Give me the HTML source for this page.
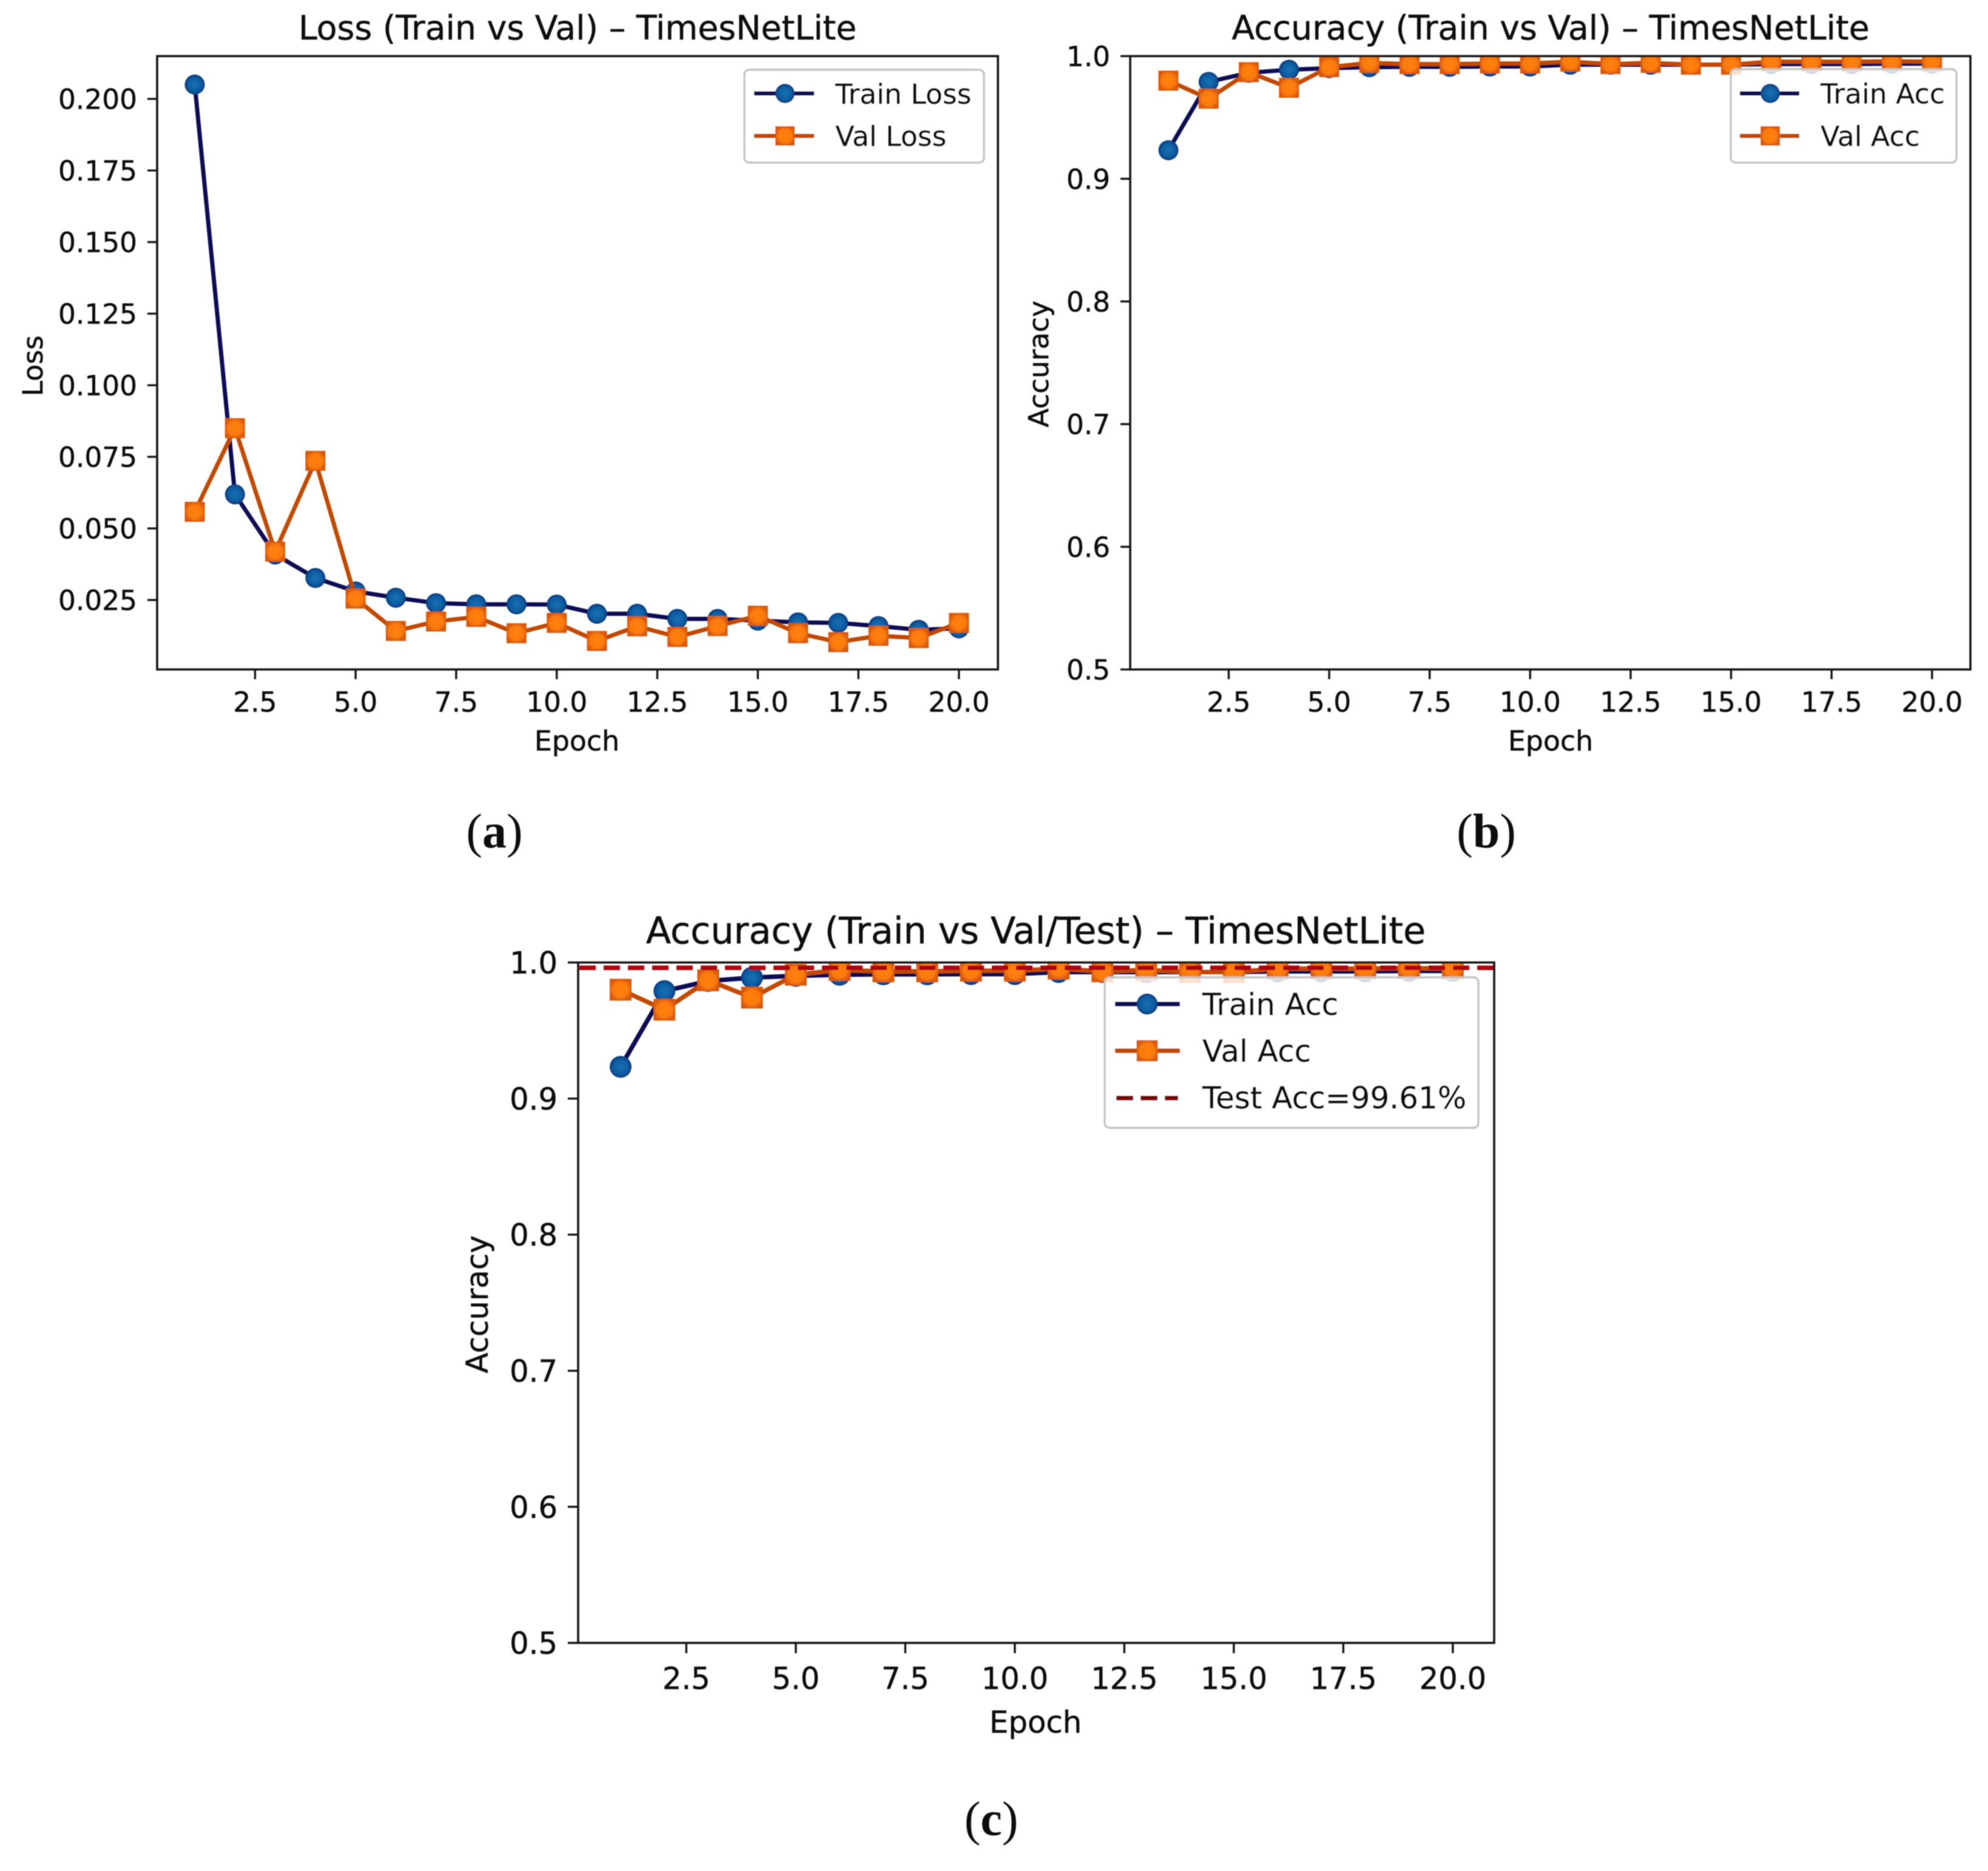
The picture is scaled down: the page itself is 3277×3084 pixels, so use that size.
<!DOCTYPE html>
<html lang="en">
<head>
<meta charset="utf-8">
<title>TimesNetLite training curves</title>
<style>
html,body{margin:0;padding:0;background:#fff;}
svg{display:block;}
text{font-family:"DejaVu Sans","Liberation Sans",sans-serif;fill:#0c0c0c;stroke:#0c0c0c;stroke-width:.5;}
.tick{font-size:45.4px;}
.label{font-size:45.8px;}
.title{font-size:55.3px;}
.legend-text{font-size:45.7px;}
.c .tick{font-size:49.6px;}
.c .label{font-size:49.8px;}
.c .legend-text{font-size:50px;}
.c .title{font-size:60.3px;}
.sub{font-family:"Liberation Serif","DejaVu Serif",serif;font-size:80px;stroke:none;}
.sub .b{font-weight:bold;}
.spine{fill:none;stroke:#151515;stroke-width:3.6;}
.tk{stroke:#151515;stroke-width:3.4;}
.frame{fill:#fff;fill-opacity:.8;stroke:#c4c4c4;stroke-width:3.4;}
</style>
</head>
<body>
<svg xmlns="http://www.w3.org/2000/svg" width="3277" height="3084" viewBox="0 0 3277 3084">
<defs>
  <radialGradient id="circleFill"><stop offset="0" stop-color="#1470b2"/><stop offset=".65" stop-color="#0f5fa2"/><stop offset="1" stop-color="#0a3a80"/></radialGradient>
  <radialGradient id="squareFill"><stop offset="0" stop-color="#ff8208"/><stop offset=".7" stop-color="#fb7a08"/><stop offset="1" stop-color="#d95a0a"/></radialGradient>
  <filter id="soft" filterUnits="userSpaceOnUse" x="0" y="0" width="3277" height="3084"><feGaussianBlur stdDeviation="0.9"/></filter>
  <clipPath id="clip-a"><rect x="259" y="92.5" width="1386" height="1011"/></clipPath>
  <clipPath id="clip-b"><rect x="1863" y="92.5" width="1385" height="1011"/></clipPath>
  <clipPath id="clip-c"><rect x="953" y="1586.5" width="1510" height="1121.5"/></clipPath>
</defs>
<rect width="3277" height="3084" fill="#fff"/>
<g filter="url(#soft)">

<!-- Panel (a) -->
<g class="a">
  <g id="ticks-a"></g>
  <g id="marks-a" clip-path="url(#clip-a)"></g>
  <rect class="spine" x="259" y="92.5" width="1386" height="1011"/>
  <text class="title" x="952" y="65" text-anchor="middle">Loss (Train vs Val) – TimesNetLite</text>
  <text class="label" x="951" y="1237" text-anchor="middle">Epoch</text>
  <text class="label" transform="translate(70 603) rotate(-90)" text-anchor="middle">Loss</text>
  <g>
    <rect class="frame" x="1227" y="115" width="395" height="153" rx="8"/>
    <g>
      <line x1="1243" y1="154" x2="1342" y2="154" stroke="#0a0f55" stroke-width="7"/>
      <circle cx="1294" cy="154" r="16" fill="url(#circleFill)"/>
      <text class="legend-text" x="1377" y="171">Train Loss</text>
    </g>
    <g>
      <line x1="1243" y1="224" x2="1342" y2="224" stroke="#c24a00" stroke-width="7"/>
      <rect x="1278" y="208" width="32" height="32" fill="url(#squareFill)"/>
      <text class="legend-text" x="1377" y="240.5">Val Loss</text>
    </g>
  </g>
  <text class="sub" x="815" y="1397" text-anchor="middle">(<tspan class="b">a</tspan>)</text>
</g>

<!-- Panel (b) -->
<g class="b">
  <g id="ticks-b"></g>
  <g id="marks-b" clip-path="url(#clip-b)"></g>
  <rect class="spine" x="1863" y="92.5" width="1385" height="1011"/>
  <text class="title" x="2556" y="65" text-anchor="middle">Accuracy (Train vs Val) – TimesNetLite</text>
  <text class="label" x="2556" y="1237" text-anchor="middle">Epoch</text>
  <text class="label" transform="translate(1728 600) rotate(-90)" text-anchor="middle">Accuracy</text>
  <g>
    <rect class="frame" x="2853" y="114" width="372" height="154" rx="8"/>
    <g>
      <line x1="2868" y1="154" x2="2966" y2="154" stroke="#0a0f55" stroke-width="7"/>
      <circle cx="2918" cy="154" r="16" fill="url(#circleFill)"/>
      <text class="legend-text" x="3001" y="170.5">Train Acc</text>
    </g>
    <g>
      <line x1="2868" y1="224" x2="2966" y2="224" stroke="#c24a00" stroke-width="7"/>
      <rect x="2902" y="208" width="32" height="32" fill="url(#squareFill)"/>
      <text class="legend-text" x="3001" y="240.5">Val Acc</text>
    </g>
  </g>
  <text class="sub" x="2450" y="1397" text-anchor="middle">(<tspan class="b">b</tspan>)</text>
</g>

<!-- Panel (c) -->
<g class="c">
  <g id="ticks-c"></g>
  <g id="marks-c" clip-path="url(#clip-c)"></g>
  <rect class="spine" x="953" y="1586.5" width="1510" height="1121.5"/>
  <text class="title" x="1707.5" y="1555" text-anchor="middle">Accuracy (Train vs Val/Test) – TimesNetLite</text>
  <text class="label" x="1707" y="2856" text-anchor="middle">Epoch</text>
  <text class="label" transform="translate(804 2150) rotate(-90)" text-anchor="middle">Accuracy</text>
  <g>
    <rect class="frame" x="1821" y="1611" width="616" height="248" rx="8"/>
    <g>
      <line x1="1838" y1="1655" x2="1945" y2="1655" stroke="#0a0f55" stroke-width="7.5"/>
      <circle cx="1891" cy="1655" r="17.5" fill="url(#circleFill)"/>
      <text class="legend-text" x="1982" y="1673">Train Acc</text>
    </g>
    <g>
      <line x1="1838" y1="1732" x2="1945" y2="1732" stroke="#c24a00" stroke-width="7.5"/>
      <rect x="1873.5" y="1714.5" width="35" height="35" fill="url(#squareFill)"/>
      <text class="legend-text" x="1982" y="1750">Val Acc</text>
    </g>
    <g>
      <line x1="1840" y1="1810" x2="1942" y2="1810" stroke="#7a0000" stroke-width="7.5" stroke-dasharray="28 12"/>
      <text class="legend-text" x="1982" y="1827">Test Acc=99.61%</text>
    </g>
  </g>
  <text class="sub" x="1634" y="3025" text-anchor="middle">(<tspan class="b">c</tspan>)</text>
</g>

</g>
</svg>

<script>
// ---- chart data ----
const epochs = [1,2,3,4,5,6,7,8,9,10,11,12,13,14,15,16,17,18,19,20];
const lossTrain = [0.205,0.0619,0.0409,0.0327,0.028,0.0258,0.0239,0.0235,0.0235,0.0234,0.0202,0.0202,0.0184,0.0184,0.0178,0.0172,0.017,0.0159,0.0146,0.0151];
const lossVal = [0.0558,0.085,0.0419,0.0736,0.0255,0.0142,0.0175,0.0191,0.0134,0.017,0.0107,0.0158,0.0121,0.0159,0.0195,0.0134,0.0103,0.0125,0.0117,0.017];
const accTrain = [0.9233,0.979,0.9864,0.9889,0.9902,0.991,0.9913,0.9913,0.9915,0.9915,0.993,0.993,0.993,0.993,0.993,0.9935,0.9935,0.9935,0.9938,0.9938];
const accVal = [0.98,0.9653,0.9869,0.9742,0.991,0.9945,0.9935,0.9935,0.994,0.994,0.9955,0.9935,0.9945,0.993,0.993,0.9955,0.9955,0.9955,0.9958,0.9955];
const testAcc = [0.9961];
const epochTicks = [2.5,5,7.5,10,12.5,15,17.5,20];
const lossTicks = [0.025,0.05,0.075,0.1,0.125,0.15,0.175,0.2];
const accTicks = [0.5,0.6,0.7,0.8,0.9,1];

const SVGNS = 'http://www.w3.org/2000/svg';

function make(tag, attrs, parent) {
  const node = document.createElementNS(SVGNS, tag);
  for (const k in attrs) node.setAttribute(k, attrs[k]);
  parent.appendChild(node);
  return node;
}

function makeAxes(left, right, top, bottom, xOrigin, xPerEpoch, vA, pxA, vB, pxB) {
  return {
    left: left, right: right, top: top, bottom: bottom,
    x: function (e) { return xOrigin + (e - 1) * xPerEpoch; },
    y: function (v) { return pxA + (v - vA) * (pxB - pxA) / (vB - vA); }
  };
}

function drawTicks(id, ax, yTicks, yDigits, fontSize, xBaseline, tickLen) {
  const g = document.getElementById(id);
  epochTicks.forEach(function (t) {
    const line = make('line', {class: 'tk', x1: ax.x(t), x2: ax.x(t), y1: ax.bottom, y2: ax.bottom + tickLen}, g);
    
    
    const label = make('text', {class: 'tick', x: ax.x(t), y: xBaseline, 'text-anchor': 'middle'}, g);
    
    
    label.textContent = t.toFixed(1);
  });
  yTicks.forEach(function (t) {
    const line = make('line', {class: 'tk', x1: ax.left - tickLen, x2: ax.left, y1: ax.y(t), y2: ax.y(t)}, g);
    
    
    const label = make('text', {class: 'tick', x: ax.left - tickLen - 17, y: ax.y(t) + fontSize * 0.365, 'text-anchor': 'end'}, g);
    
    
    label.textContent = t.toFixed(yDigits);
  });
}

function drawTrain(group, ax, values, r, lw) {
  const pts = epochs.map(function (e, i) { return ax.x(e) + ',' + ax.y(values[i]); }).join(' ');
  const line = make('polyline', {points: pts, fill: 'none', stroke: '#0a0f55', 'stroke-width': lw, 'stroke-linejoin': 'round'}, group);
  
  
  epochs.forEach(function (e, i) {
    const dot = make('circle', {cx: ax.x(e), cy: ax.y(values[i]), r: r, fill: 'url(#circleFill)'}, group);
    
    
  });
}

function drawVal(group, ax, values, r, lw) {
  const pts = epochs.map(function (e, i) { return ax.x(e) + ',' + ax.y(values[i]); }).join(' ');
  const line = make('polyline', {points: pts, fill: 'none', stroke: '#c24a00', 'stroke-width': lw, 'stroke-linejoin': 'round'}, group);
  
  
  epochs.forEach(function (e, i) {
    const sq = make('rect', {x: ax.x(e) - r, y: ax.y(values[i]) - r, width: 2 * r, height: 2 * r, fill: 'url(#squareFill)'}, group);
    
    
  });
}

const axesA = makeAxes(259, 1645, 92.5, 1103.5, 321, 66.3, 0.025, 989, 0.2, 163);
const axesB = makeAxes(1863, 3248, 92.5, 1103.5, 1926, 66.25, 1, 92.5, 0.5, 1103.5);
const axesC = makeAxes(953, 2463, 1586.5, 2708, 1023, 72.2, 1, 1586.5, 0.5, 2708);

drawTicks('ticks-a', axesA, lossTicks, 3, 45.4, 1173, 16);
drawTicks('ticks-b', axesB, accTicks, 1, 45.4, 1173, 16);
drawTicks('ticks-c', axesC, accTicks, 1, 49.6, 2784, 17);

const marksA = document.getElementById('marks-a');
drawTrain(marksA, axesA, lossTrain, 16.5, 7);
drawVal(marksA, axesA, lossVal, 16.5, 7);

const marksB = document.getElementById('marks-b');
drawTrain(marksB, axesB, accTrain, 16.5, 7);
drawVal(marksB, axesB, accVal, 16.5, 7);

const marksC = document.getElementById('marks-c');
drawTrain(marksC, axesC, accTrain, 18, 7.5);
drawVal(marksC, axesC, accVal, 18, 7.5);

const testLine = make('line', {x1: axesC.left + 2, x2: axesC.right, y1: axesC.y(testAcc[0]), y2: axesC.y(testAcc[0]), stroke: '#b00008', 'stroke-width': 7.5, 'stroke-dasharray': '27 13'}, marksC);


</script>
</body>
</html>
